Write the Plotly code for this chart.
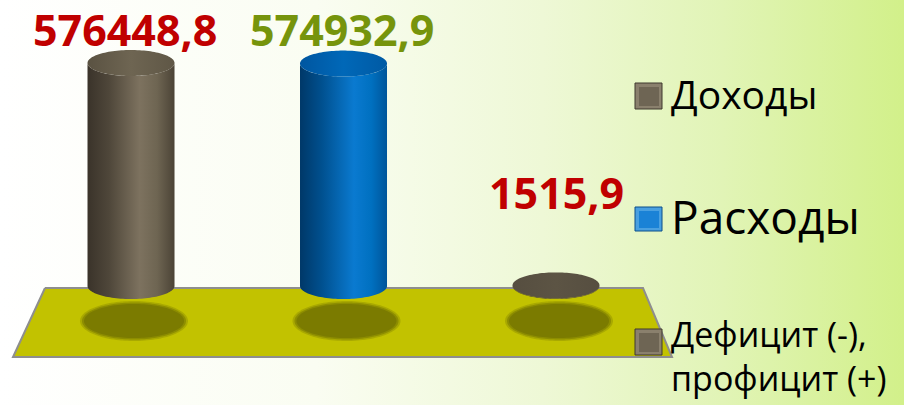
import numpy as np
import plotly.graph_objects as go

# ---------------- data ----------------
categories = ["Доходы", "Расходы", "Дефицит (-), профицит (+)"]
values = [576448.8, 574932.9, 1515.9]
value_labels = ["576448,8", "574932,9", "1515,9"]
legend_labels = ["Доходы", "Расходы", "Дефицит (-),<br>профицит (+)"]

# ---------------- styles ----------------
W, H = 904, 405
XR = [-0.6165, 3.6376]
YR = [-307600.0, 739300.0]
SX = (XR[1] - XR[0]) / W  # data units per px
SY = (YR[1] - YR[0]) / H

body_scales = [
    [[0, "#3a332a"], [0.25, "#4f473a"], [0.6, "#7d725f"], [0.8, "#6e6552"], [1, "#4b4336"]],
    [[0, "#003868"], [0.25, "#00508f"], [0.62, "#0a7ad0"], [0.82, "#0070c0"], [1, "#00559a"]],
    [[0, "#4f4839"], [1, "#5d5545"]],
]
top_scales = [
    [[0, "#5a5242"], [0.5, "#6e6552"], [1, "#5f5746"]],
    [[0, "#0056a0"], [0.5, "#0068b8"], [1, "#005aa4"]],
    [[0, "#564e40"], [0.5, "#5c5444"], [1, "#564e40"]],
]
label_colors = ["#c00000", "#76940c", "#c00000"]
label_shift = [(-6, 2), (-2, 3), (0, 61)]
label_size = 43
legend_fill = [("#3f392e", "#6e6554", "#8a806d"), ("#0b4f8a", "#1a82d6", "#4aa0e0"), ("#3f392e", "#6e6554", "#8a806d")]
legend_sq = [(83, 109), (207, 231), (329, 355)]
legend_text = [(94, 39), (216, 46), (356, 34)]

RX_PX, RY_PX = 43.5, 13


def to_x(px):
    return XR[0] + px * SX


def to_y(py):
    return YR[1] - py * SY


fig = go.Figure()

# background gradient
fig.add_trace(go.Scatter(
    x=[XR[0], XR[1], XR[1], XR[0], XR[0]], y=[YR[0], YR[0], YR[1], YR[1], YR[0]],
    mode="none", fill="toself", hoverinfo="skip",
    fillgradient=dict(type="horizontal", start=XR[0], stop=XR[1],
                      colorscale=[[0, "#ffffff"], [0.35, "#fafdf2"], [0.6, "#eef8d6"],
                                  [0.8, "#e1f4b6"], [1, "#d2f08a"]]),
))

# floor
fx = [45, 643, 672, 13, 45]
fy = [288, 288, 357, 357, 288]
fig.add_trace(go.Scatter(
    x=[to_x(p) for p in fx], y=[to_y(p) for p in fy], mode="lines", fill="toself",
    fillcolor="#c2c200", line=dict(color="#8e8e8e", width=2), hoverinfo="skip",
))

t = np.linspace(0, np.pi, 60)
t2 = np.linspace(0, 2 * np.pi, 120)
rx = RX_PX * SX
ry = RY_PX * SY

# shadows
for i in range(len(values)):
    cx = i + 3 * SX
    cy = to_y(321)
    for srx, sry, op in [(54, 20, 0.35), (52, 18.5, 0.6), (50, 17, 1.0)]:
        fig.add_trace(go.Scatter(
            x=cx + srx * SX * np.cos(t2), y=cy + sry * SY * np.sin(t2),
            mode="none", fill="toself", fillcolor="#7b7b00", opacity=op, hoverinfo="skip",
        ))

# cylinders
for i, v in enumerate(values):
    cx = i
    bx = np.concatenate([[cx - rx, cx - rx], cx - rx * np.cos(t), [cx + rx, cx + rx], cx + rx * np.cos(t)])
    by = np.concatenate([[v, 0], -ry * np.sin(t), [0, v], v - ry * np.sin(t)])
    fig.add_trace(go.Scatter(
        x=bx, y=by, mode="none", fill="toself", hoverinfo="skip", name=categories[i],
        fillgradient=dict(type="horizontal", start=cx - rx, stop=cx + rx, colorscale=body_scales[i]),
    ))
    fig.add_trace(go.Scatter(
        x=cx + rx * np.cos(t2), y=v + ry * np.sin(t2), mode="none", fill="toself",
        hoverinfo="skip", name=categories[i],
        fillgradient=dict(type="horizontal", start=cx - rx, stop=cx + rx, colorscale=top_scales[i]),
    ))

# value labels
for i, v in enumerate(values):
    fig.add_annotation(
        x=i, y=v, text=value_labels[i], showarrow=False, xanchor="center", yanchor="bottom",
        xshift=label_shift[i][0], yshift=label_shift[i][1],
        font=dict(family="Open Sans", size=label_size, color=label_colors[i], weight="bold"),
    )

# legend
shapes = []
for i in range(len(categories)):
    y0, y1 = legend_sq[i]
    x0, x1 = 635, 662
    dark, mid, light = legend_fill[i]
    shapes.append(dict(type="rect", xref="paper", yref="paper",
                       x0=x0 / W, x1=x1 / W, y0=1 - y1 / H, y1=1 - y0 / H,
                       fillcolor=light, line=dict(color=dark, width=1)))
    shapes.append(dict(type="rect", xref="paper", yref="paper",
                       x0=(x0 + 4) / W, x1=(x1 - 3) / W, y0=1 - (y1 - 3) / H, y1=1 - (y0 + 4) / H,
                       fillcolor=mid, line=dict(width=0)))
    yc, fs = legend_text[i]
    fig.add_annotation(
        x=670 / W, y=1 - yc / H, xref="paper", yref="paper", text=legend_labels[i], showarrow=False,
        xanchor="left", yanchor="middle", align="left", borderpad=0,
        font=dict(family="Open Sans", size=fs, color="#000000"),
    )

fig.update_layout(
    width=W, height=H, margin=dict(l=0, r=0, t=0, b=0),
    paper_bgcolor="#ffffff", plot_bgcolor="rgba(0,0,0,0)",
    showlegend=False, hovermode=False, shapes=shapes,
    xaxis=dict(range=XR, visible=False, fixedrange=True),
    yaxis=dict(range=YR, visible=False, fixedrange=True),
)

fig.write_html(
    "out.html",
    config={"displayModeBar": False},
    post_script="document.body.style.margin='0';document.body.style.overflow='hidden';",
)
